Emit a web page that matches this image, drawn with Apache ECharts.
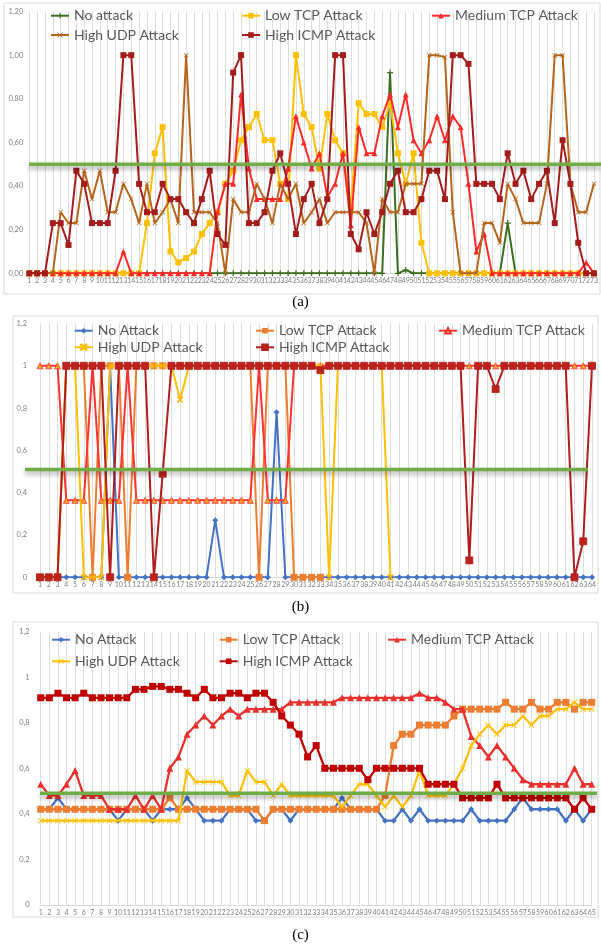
<!DOCTYPE html>
<html><head><meta charset="utf-8">
<script src="https://cdn.jsdelivr.net/npm/echarts/dist/echarts.min.js"></script>
<style>html,body{margin:0;padding:0;background:#fff}#c{width:601px;height:948px}</style>
</head><body><div id="c"></div><script>
// ---------- DATA ----------
const catsA = Array.from({length:73},(_,i)=>String(i+1));
const catsB = Array.from({length:64},(_,i)=>String(i+1));
const catsC = Array.from({length:65},(_,i)=>String(i+1));
const thrA = 0.50, thrB = 0.51, thrC = 0.49;

// panel (a)
const noAttackA = [0,0,0,0,0,0,0,0,0,0, 0,0,0,0,0,0,0,0,0,0, 0,0,0,0,0,0,0,0,0,0, 0,0,0,0,0,0,0,0,0,0, 0,0,0,0,0,0,0.92,0,0.015,0, 0,0,0,0,0,0,0,0,0,0, 0,0.23,0,0,0,0,0,0,0,0, 0,0,0];
const lowTcpA = [0,0,0,0,0,0,0,0,0,0, 0,0,0,0,0,0.23,0.55,0.67,0.10,0.05, 0.07,0.10,0.18,0.23,0.28,0.41,0.47,0.61,0.67,0.73, 0.61,0.61,0.41,0.34,1.0,0.73,0.67,0.48,0.73,0.61, 0.55,0.30,0.78,0.73,0.73,0.67,0.78,0.55,0.41,0.55, 0.14,0,0,0,0,0,0,0,0,0, 0,0,0,0,0,0,0,0,0,0, 0,0,0];
const medTcpA = [0,0,0,0,0,0,0,0,0,0, 0,0,0.10,0,0,0,0,0,0,0, 0,0,0,0,0.28,0.41,0.41,0.82,0.48,0.34, 0.34,0.34,0.34,0.48,0.72,0.60,0.48,0.55,0.35,0.41, 0.55,0.22,0.67,0.55,0.55,0.72,0.82,0.67,0.82,0.61, 0.55,0.61,0.72,0.61,0.72,0.67,0.41,0.10,0.18,0, 0,0,0,0,0,0,0,0,0,0, 0,0.05,0];
const udpA = [0,0,0,0,0.28,0.23,0.23,0.47,0.34,0.47, 0.28,0.28,0.41,0.34,0.23,0.41,0.23,0.28,0.34,0.23, 1.0,0.28,0.28,0.28,0.23,0,0.34,0.28,0.28,0.41, 0.34,0.23,0.41,0.34,0.41,0.23,0.28,0.34,0.23,0.28, 0.28,0.28,0.28,0.23,0,0.34,0.28,0.28,0.41,0.41, 0.41,1.0,1.0,0.99,0.28,0,0,0,0.23,0.23, 0.14,0.41,0.34,0.23,0.23,0.23,0.41,1.0,1.0,0.41, 0.28,0.28,0.41];
const icmpA = [0,0,0,0.23,0.23,0.13,0.47,0.41,0.23,0.23, 0.23,0.47,1.0,1.0,0.41,0.28,0.28,0.41,0.34,0.34, 0.28,0.23,0.34,0.47,0.18,0.13,0.92,1.0,0.23,0.23, 0.28,0.47,0.55,0.41,0.18,0.34,0.41,0.23,0.34,1.0, 1.0,0.18,0.11,0.28,0.18,0.28,0.41,0.47,0.28,0.28, 0.34,0.47,0.47,0.34,1.0,1.0,0.96,0.41,0.41,0.41, 0.34,0.55,0.41,0.47,0.34,0.41,0.47,0.23,0.61,0.41, 0.14,0,0];

// panel (b)
const noAttackB = [0,0,0,0,0,0,0,0,1,0, 0,0,0,0,0,0,0,0,0,0, 0.27,0,0,0,0,0,0,0.78,0,0, 0,0,0,0,0,0,0,0,0,0, 0,0,0,0,0,0,0,0,0,0, 0,0,0,0,0,0,0,0,0,0, 0,0,0,0];
const lowTcpB = [0,0,0,1,1,1,0,1,1,1, 0,1,1,1,1,1,1,1,1,1, 1,1,1,1,1,0,1,1,1,0, 0,0,0];
const medTcpB = [1,1,1,0.364,0.364,0.364,1,0.364,0.364,0.364, 1,0.364,0.364,0.364,0.364,0.364,0.364,0.364,0.364,0.364, 0.364,0.364,0.364,0.364,0.364,1,0.364,0.364,0.364,1, 1,1,1,1,1,1,1,1,1,1, 1,1,1,1,1,1,1,1,1,1, 1,1,1,1,1,1,1,1,1,1, 1,1,1,1];
const udpB = [0,0,0,1,1,0,0,0,1,1, 1,1,1,1,1,1,0.84,1,1,1, 1,1,1,1,1,1,1,1,1,1, 1,1,1,0,1,1,1,1,1,1, 0];
const icmpB = [0,0,0,1,1,1,1,1,0,1, 1,1,1,0,0.49,1,1,1,1,1, 1,1,1,1,1,1,1,1,1,1, 1,1,0.98,1,1,1,1,1,1,1, 1,1,1,1,1,1,1,1,1,0.08, 1,1,0.89,1,1,1,1,1,1,1, 1,0,0.17,1];

// panel (c)
const noAttackC = [0.42,0.42,0.47,0.42,0.42,0.42,0.42,0.42,0.42,0.37, 0.42,0.42,0.42,0.37,0.42,0.42,0.42,0.47,0.42,0.37, 0.37,0.37,0.42,0.42,0.42,0.37,0.37,0.42,0.42,0.37, 0.42,0.42,0.42,0.42,0.42,0.47,0.42,0.42,0.42,0.42, 0.37,0.37,0.42,0.37,0.42,0.37,0.37,0.37,0.37,0.37, 0.42,0.37,0.37,0.37,0.37,0.42,0.47,0.42,0.42,0.42, 0.42,0.37,0.42,0.37,0.42];
const lowTcpC = [0.42,0.42,0.42,0.42,0.42,0.42,0.42,0.42,0.42,0.42, 0.42,0.42,0.42,0.42,0.42,0.47,0.42,0.42,0.42,0.42, 0.42,0.42,0.42,0.42,0.42,0.42,0.37,0.42,0.42,0.42, 0.42,0.42,0.42,0.42,0.42,0.42,0.42,0.42,0.42,0.42, 0.48,0.70,0.75,0.75,0.79,0.79,0.79,0.79,0.83,0.86, 0.86,0.86,0.86,0.86,0.89,0.86,0.86,0.89,0.86,0.86, 0.89,0.89,0.86,0.89,0.89];
const medTcpC = [0.53,0.48,0.48,0.53,0.59,0.48,0.48,0.48,0.42,0.42, 0.42,0.48,0.42,0.48,0.42,0.60,0.65,0.75,0.79,0.83, 0.79,0.83,0.86,0.83,0.86,0.86,0.86,0.86,0.86,0.89, 0.89,0.89,0.89,0.89,0.89,0.91,0.91,0.91,0.91,0.91, 0.91,0.91,0.91,0.91,0.93,0.91,0.91,0.89,0.86,0.86, 0.74,0.70,0.65,0.70,0.65,0.60,0.55,0.53,0.53,0.53, 0.53,0.53,0.60,0.53,0.53];
const udpC = [0.37,0.37,0.37,0.37,0.37,0.37,0.37,0.37,0.37,0.37, 0.37,0.37,0.37,0.37,0.37,0.37,0.37,0.59,0.54,0.54, 0.54,0.54,0.48,0.48,0.59,0.54,0.54,0.48,0.53,0.48, 0.48,0.48,0.48,0.48,0.48,0.43,0.48,0.53,0.53,0.48, 0.43,0.48,0.43,0.48,0.59,0.48,0.48,0.48,0.53,0.60, 0.70,0.75,0.79,0.75,0.79,0.79,0.83,0.79,0.83,0.83, 0.86,0.86,0.89,0.86,0.86];
const icmpC = [0.91,0.91,0.93,0.91,0.91,0.93,0.91,0.91,0.91,0.91, 0.91,0.947,0.947,0.96,0.96,0.947,0.947,0.93,0.91,0.947, 0.91,0.91,0.93,0.93,0.91,0.93,0.93,0.89,0.83,0.79, 0.75,0.65,0.70,0.60,0.60,0.60,0.60,0.60,0.55,0.60, 0.60,0.60,0.60,0.60,0.60,0.53,0.53,0.53,0.53,0.47, 0.47,0.47,0.47,0.53,0.47,0.47,0.47,0.47,0.47,0.47, 0.47,0.47,0.42,0.47,0.42];

// ---------- STYLE ----------
const SYM_X = 'path://M1,0L5,4L9,0L10,1L6,5L10,9L9,10L5,6L1,10L0,9L4,5L0,1Z';
const SYM_PLUS = 'path://M4,0H6V4H10V6H6V10H4V6H0V4H4Z';
const FONT = 'Lato, "Liberation Sans", sans-serif';

const panels = [
  {key:'a', cats:catsA, grid:{left:29.3, width:570.2, top:11.5, height:261.8}, labDec:2, labMargin:6, thr:thrA, thrX:[29,601],
   series:[
    ['No attack', noAttackA, '#3b6e22', SYM_PLUS, 6, null],
    ['Low TCP Attack', lowTcpA, '#ffc000', 'rect', 6, null],
    ['Medium TCP Attack', medTcpA, '#ff2a2a', 'triangle', 6, null],
    ['High UDP Attack', udpA, '#b5651d', SYM_X, 5, null],
    ['High ICMP Attack', icmpA, '#a51c1c', 'rect', 6, null]],
   legend:[[73,16.7,0],[264,16.7,1],[454,16.7,2],[73,36,3],[264,36,4]], lw:2},
  {key:'b', cats:catsB, grid:{left:40, width:552, top:323.5, height:253.8}, labDec:1, labMargin:13, thr:thrB, thrX:[25,588],
   series:[
    ['No Attack', noAttackB, '#4472c4', 'diamond', 6, null],
    ['Low TCP Attack', lowTcpB, '#ed7d31', 'rect', 7, null],
    ['Medium TCP Attack', medTcpB, '#ff3333', 'triangle', 6, '#f5a623'],
    ['High UDP Attack', udpB, '#ffc000', SYM_X, 6, '#ed7d31'],
    ['High ICMP Attack', icmpB, '#b01e1e', 'rect', 7, '#c0221b']],
   legend:[[96.7,331.7,0],[278,331.7,1],[461,331.7,2],[96.7,348.3,3],[278,348.3,4]], lw:2},
  {key:'c', cats:catsC, grid:{left:40.7, width:551, top:631.8, height:273}, labDec:1, labMargin:11, thr:thrC, thrX:[40,597],
   series:[
    ['No Attack', noAttackC, '#4472c4', 'diamond', 6, null],
    ['Low TCP Attack', lowTcpC, '#ed7d31', 'rect', 7, null],
    ['Medium TCP Attack', medTcpC, '#e8302d', 'triangle', 7, null],
    ['High UDP Attack', udpC, '#ffc000', SYM_X, 6, null],
    ['High ICMP Attack', icmpC, '#c00000', 'rect', 7, null]],
   legend:[[74,640.7,0],[241.7,640.7,1],[410,640.7,2],[74,662.3,3],[241.7,662.3,4]], lw:2.3}
];

const option = {animation:false, backgroundColor:'#fff', grid:[], xAxis:[], yAxis:[], series:[], legend:[], graphic:[]};

panels.forEach((p, gi) => {
  option.grid.push(Object.assign({containLabel:false}, p.grid));
  option.xAxis.push({type:'category', gridIndex:gi, data:p.cats, boundaryGap:false,
    axisLine:{show:true, lineStyle:{color:'#d9d9d9'}}, axisTick:{show:false},
    axisLabel:{interval:0, fontSize:7, color:'#808080', margin:4, fontFamily:FONT, hideOverlap:false},
    splitLine:{show:true, interval:0, lineStyle:{color:'#dedede', width:1}}});
  option.yAxis.push({type:'value', gridIndex:gi, min:0, max:1.2, interval:0.2,
    axisLine:{show:false}, axisTick:{show:false}, splitLine:{show:false},
    axisLabel:{fontSize:7.5, color:'#808080', margin:p.labMargin, fontFamily:FONT,
      formatter:v => {
        if (p.labDec === 2) return v.toFixed(2).replace('.', ',');
        let s = (Math.round(v*10)/10).toString(); return s.replace('.', ',');
      }}});
  p.series.forEach((s, si) => {
    const [name, data, color, sym, size, fill] = s;
    option.series.push({type:'line', name:name + '|' + p.key, xAxisIndex:gi, yAxisIndex:gi, data:data,
      symbol:sym, symbolSize:size, showSymbol:true, z:2+si,
      lineStyle:{color:color, width:p.lw},
      itemStyle:{color: fill || color, borderColor: color, borderWidth: fill ? 0.8 : 0},
      emphasis:{disabled:true}});
  });
  p.legend.forEach(([tx, cy, si]) => {
    option.legend.push({data:[p.series[si][0] + '|' + p.key], left:tx - 23, top:cy - 8,
      padding:0, itemWidth:18, itemHeight:7, itemGap:0,
      formatter: n => n.split('|')[0],
      textStyle:{fontSize:14, color:'#595959', fontFamily:FONT, padding:[0,0,0,0]}});
  });
});

// frames and captions
const frames = [[4,3,596,291],[13,316,585,277],[13,622,585,295]];
frames.forEach(([x,y,w,h], i) => option.graphic.push({id:'frame'+i, type:'rect', shape:{x:x,y:y,width:w,height:h}, style:{fill:'none', stroke:'#d9d9d9', lineWidth:1}, z:-1, silent:true}));
[['(a)',303],['(b)',608],['(c)',936]].forEach(([t,y], i) => option.graphic.push({id:'cap'+i, type:'text', left:'center', top:y-8,
  style:{text:t, font:'15px "Liberation Serif", serif', fill:'#000'}}));

const chart = echarts.init(document.getElementById('c'), null, {renderer:'canvas'});
chart.setOption(option);

// threshold lines: y position from the panel's own value axis
const thrGraphics = panels.map((p, gi) => {
  const y = chart.convertToPixel({xAxisIndex:gi, yAxisIndex:gi}, [0, p.thr])[1];
  return {id:'thr'+gi, type:'line', z:100, silent:true,
    shape:{x1:p.thrX[0], y1:y, x2:p.thrX[1], y2:y},
    style:{stroke:'#70ad47', lineWidth:3.5, shadowBlur:5, shadowColor:'rgba(0,0,0,0.35)', shadowOffsetY:3}};
});
chart.setOption({graphic: thrGraphics});
</script></body></html>
